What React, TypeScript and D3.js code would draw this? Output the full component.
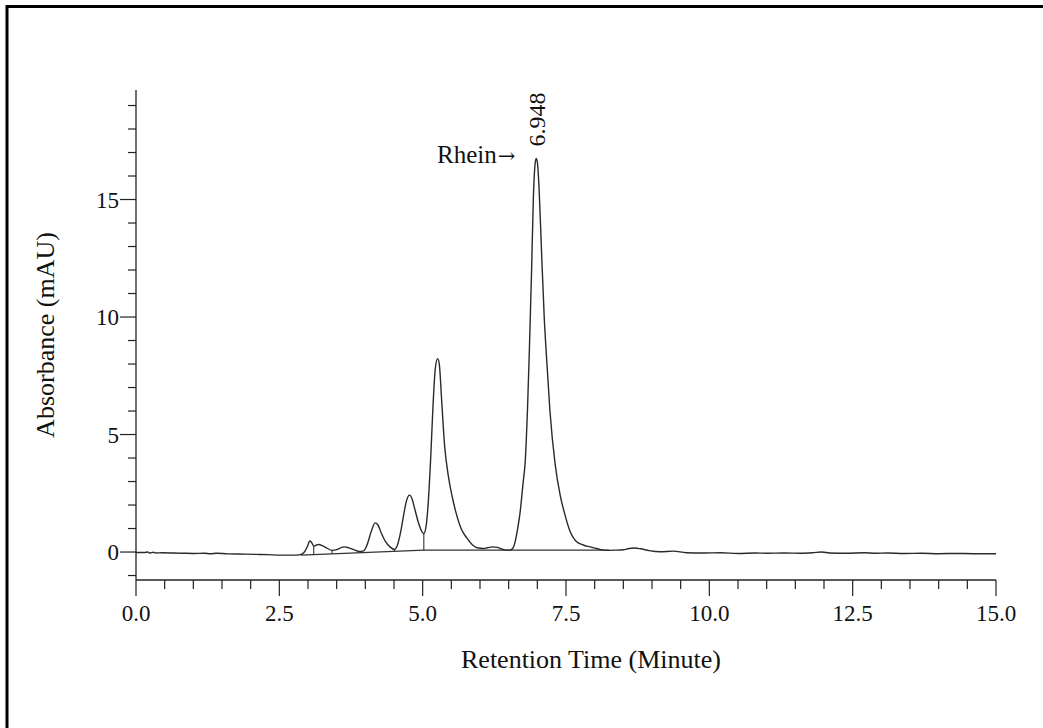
import React from "react";
import * as d3 from "d3";

// Chromatogram signal
const timeMin: number[] = [
  0.0, 0.15, 0.2, 0.25, 0.3, 0.35, 0.45, 0.8, 1.0, 1.2, 1.3, 1.4, 1.6, 1.9, 2.1, 2.3, 2.5, 2.7, 2.85, 2.9,
  2.95, 3.0, 3.03, 3.06, 3.1, 3.15, 3.19, 3.25, 3.32, 3.42, 3.5, 3.58, 3.63, 3.7, 3.8, 3.9, 3.97, 4.03, 4.1, 4.17,
  4.22, 4.28, 4.35, 4.43, 4.51, 4.56, 4.62, 4.67, 4.72, 4.77, 4.81, 4.86, 4.92, 4.97, 5.02, 5.06, 5.1, 5.14, 5.18, 5.22,
  5.26, 5.29, 5.33, 5.38, 5.45, 5.52, 5.59, 5.67, 5.77, 5.87, 5.97, 6.05, 6.13, 6.22, 6.3, 6.38, 6.45, 6.52, 6.57, 6.61,
  6.65, 6.7, 6.75, 6.79, 6.83, 6.86, 6.9, 6.93, 6.96, 6.98, 7.0, 7.03, 7.07, 7.12, 7.16, 7.22, 7.31, 7.4, 7.48, 7.56,
  7.68, 7.8, 7.92, 8.05, 8.2, 8.35, 8.5, 8.6, 8.7, 8.8, 8.95, 9.14, 9.37, 9.6, 9.9, 10.2, 10.5, 10.8, 11.0, 11.3,
  11.6, 11.8, 11.96, 12.1, 12.4, 12.7, 12.9, 13.1, 13.4, 13.7, 14.0, 14.3, 14.6, 15.0,
];
const absorbance: number[] = [
  -0.02, -0.02, 0.0, -0.04, -0.01, -0.04, -0.03, -0.05, -0.06, -0.05, -0.07, -0.05, -0.08, -0.09, -0.1, -0.11, -0.13, -0.13, -0.12, -0.08,
  0.05, 0.3, 0.47, 0.42, 0.25, 0.3, 0.32, 0.27, 0.18, 0.07, 0.1, 0.19, 0.22, 0.19, 0.1, 0.02, 0.05, 0.3, 0.85, 1.24,
  1.15, 0.8, 0.45, 0.22, 0.11, 0.3, 0.9, 1.6, 2.2, 2.42, 2.3, 1.85, 1.3, 0.95, 0.78, 1.1, 2.2, 4.0, 6.2, 7.8,
  8.23, 8.0, 6.5, 4.6, 3.2, 2.3, 1.6, 1.0, 0.6, 0.3, 0.17, 0.15, 0.18, 0.22, 0.2, 0.13, 0.08, 0.08, 0.15, 0.4,
  0.9, 1.7, 2.9, 3.9, 6.2, 8.5, 12.0, 15.0, 16.5, 16.75, 16.6, 15.5, 13.0, 10.0, 8.3, 6.0, 3.75, 2.4, 1.6, 0.95,
  0.45, 0.3, 0.22, 0.14, 0.07, 0.08, 0.1, 0.15, 0.17, 0.14, 0.06, 0.01, 0.04, -0.03, -0.04, -0.03, -0.06, -0.04, -0.05, -0.04,
  -0.05, -0.03, 0.0, -0.04, -0.05, -0.03, -0.05, -0.04, -0.06, -0.05, -0.07, -0.06, -0.07, -0.07,
];

// Integration baseline and peak drop lines
const baseTimes: number[] = [2.88, 5.02, 8.25];
const baseValues: number[] = [-0.13, 0.08, 0.08];
const dropTimes: number[] = [3.1, 3.42, 3.92, 4.51, 5.02];
const dropTops: number[] = [0.25, 0.07, 0.02, 0.11, 0.78];

const xMajorTicks: number[] = [0, 2.5, 5, 7.5, 10, 12.5, 15];
const yMajorTicks: number[] = [0, 5, 10, 15];
const xMinorTicks: number[] = d3.range(0, 15.001, 0.5);
const yMinorTicks: number[] = d3.range(-1, 19.001, 1);

const peakLabel = "6.948";
const peakName = "Rhein";
const peakTime = 6.98;
const peakValue = 16.75;

export default function App() {
  const x = d3.scaleLinear().domain([0, 15]).range([136, 996]);
  const y = d3.scaleLinear().domain([-1.19, 19.66]).range([580, 90]);

  const pts: [number, number][] = timeMin.map((t, i) => [t, absorbance[i]]);
  const line = d3
    .line<[number, number]>()
    .x((d) => x(d[0]))
    .y((d) => y(d[1]))
    .curve(d3.curveMonotoneX);

  const basePts: [number, number][] = baseTimes.map((t, i) => [t, baseValues[i]]);
  const baseLine = d3
    .line<[number, number]>()
    .x((d) => x(d[0]))
    .y((d) => y(d[1]));
  const baseAt = d3.scaleLinear().domain(baseTimes).range(baseValues).clamp(true);

  const font = "'Liberation Serif', 'Times New Roman', serif";
  const ink = "#222";
  const [x0, x1] = x.range();
  const [yb, yt] = y.range();

  return (
    <svg
      width={1043}
      height={728}
      style={{ position: "absolute", left: 0, top: 0, background: "#fff" }}
      fontFamily={font}
    >
      <rect x={0} y={0} width={1043} height={728} fill="#fff" />
      {/* frame */}
      <rect x={7} y={6.5} width={1100} height={800} fill="none" stroke="#000" strokeWidth={3} />

      {/* axes */}
      <line x1={x0} x2={x0} y1={yt} y2={yb} stroke={ink} strokeWidth={1.3} />
      <line x1={x0} x2={x1} y1={yb} y2={yb} stroke={ink} strokeWidth={1.3} />

      {xMinorTicks.map((t) => {
        const major = xMajorTicks.some((m) => Math.abs(m - t) < 1e-6);
        return (
          <line key={"xt" + t} x1={x(t)} x2={x(t)} y1={yb} y2={yb + (major ? 16 : 9)} stroke={ink} strokeWidth={1.2} />
        );
      })}
      {xMajorTicks.map((t) => (
        <text key={"xl" + t} x={x(t)} y={621} fontSize={23} textAnchor="middle" fill="#111">
          {t.toFixed(1)}
        </text>
      ))}

      {yMinorTicks.map((v) => {
        const major = yMajorTicks.includes(v);
        return (
          <line key={"yt" + v} x1={x0 - (major ? 16 : 8)} x2={x0} y1={y(v)} y2={y(v)} stroke={ink} strokeWidth={1.2} />
        );
      })}
      {yMajorTicks.map((v) => (
        <text key={"yl" + v} x={119} y={y(v) + 8} fontSize={23} textAnchor="end" fill="#111">
          {v}
        </text>
      ))}

      {/* axis titles */}
      <text x={591} y={668} fontSize={26} textAnchor="middle" fill="#111">
        Retention Time (Minute)
      </text>
      <text
        transform={`translate(54, ${(yt + yb) / 2}) rotate(-90)`}
        fontSize={26}
        textAnchor="middle"
        fill="#111"
      >
        Absorbance (mAU)
      </text>

      {/* integration baseline and drop lines */}
      <path d={baseLine(basePts) || ""} fill="none" stroke="#333" strokeWidth={1.1} />
      {dropTimes.map((t, i) => (
        <line
          key={"dl" + i}
          x1={x(t)}
          x2={x(t)}
          y1={y(dropTops[i])}
          y2={y(baseAt(t))}
          stroke="#333"
          strokeWidth={1.1}
        />
      ))}

      {/* signal */}
      <path d={line(pts) || ""} fill="none" stroke="#2a2a2a" strokeWidth={1.4} strokeLinejoin="round" />

      {/* annotations */}
      <text
        transform={`translate(${x(peakTime) + 9}, ${y(peakValue) - 12}) rotate(-90)`}
        fontSize={24}
        fill="#111"
      >
        {peakLabel}
      </text>
      <text x={437} y={163} fontSize={25} fill="#111">
        {peakName}
        <tspan fontFamily="'DejaVu Serif', serif" fontSize={21} dx={1}>
          →
        </tspan>
      </text>
    </svg>
  );
}
